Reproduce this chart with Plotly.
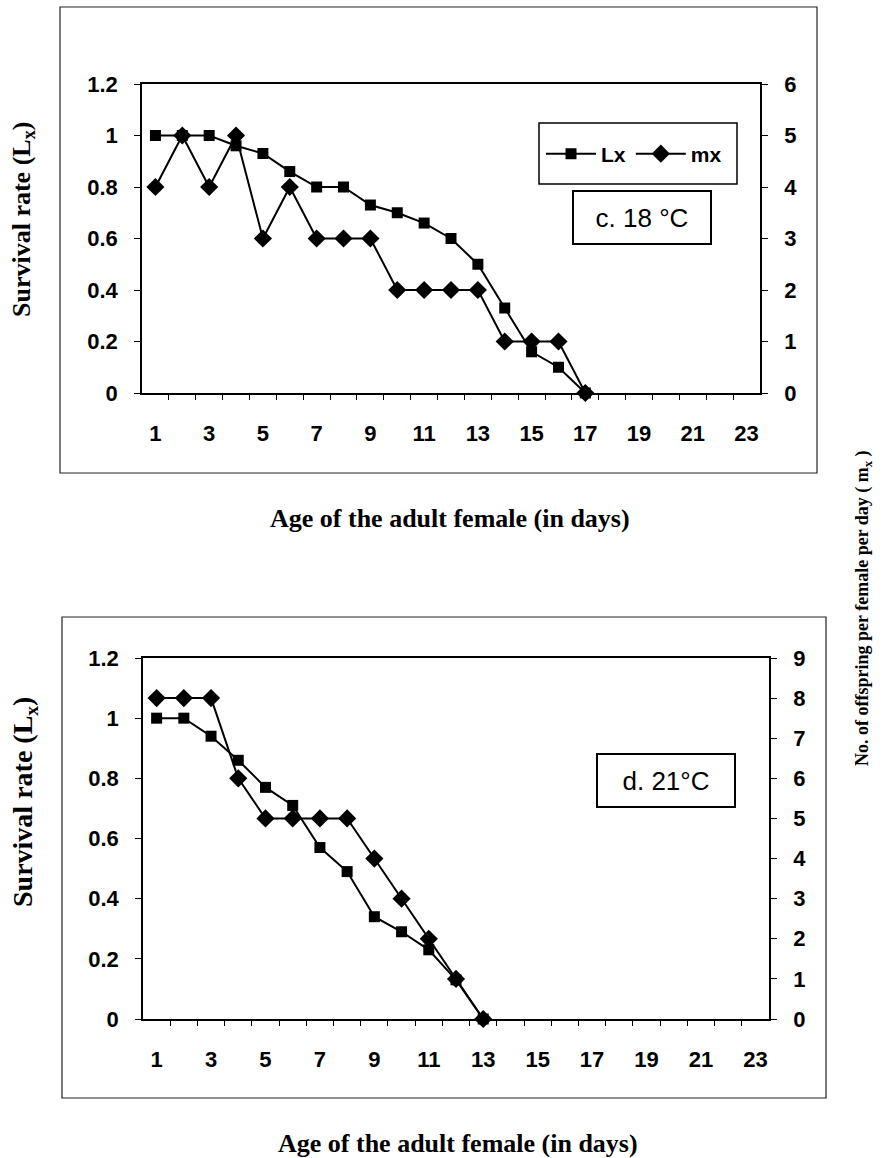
import plotly.graph_objects as go

# ---- data ----
days_c = list(range(1, 18))
lx_c = [1, 1, 1, 0.96, 0.93, 0.86, 0.8, 0.8, 0.73, 0.7, 0.66, 0.6, 0.5, 0.33, 0.16, 0.1, 0]
mx_c = [4, 5, 4, 5, 3, 4, 3, 3, 3, 2, 2, 2, 2, 1, 1, 1, 0]

days_d = list(range(1, 14))
lx_d = [1, 1, 0.94, 0.86, 0.77, 0.71, 0.57, 0.49, 0.34, 0.29, 0.23, 0.13, 0]
mx_d = [8, 8, 8, 6, 5, 5, 5, 5, 4, 3, 2, 1, 0]

x_tick_vals = list(range(1, 24, 2))
x_tick_text = [str(v) for v in x_tick_vals]
x_minor_vals = [v + 0.5 for v in range(1, 23)]
panel_c_label = "c. 18 °C"
panel_d_label = "d. 21°C"

W, H = 884, 1158


def px(x):
    return x / W


def py(y):
    return 1 - y / H


tick_font = dict(family="Liberation Sans", size=22, color="black", weight="bold")
title_font = dict(family="Liberation Serif", size=26, color="black", weight="bold")

fig = go.Figure()

line_style = dict(color="black", width=2)
sq = dict(symbol="square", size=11, color="black")
dm = dict(symbol="diamond", size=14, color="black")

fig.add_trace(go.Scatter(x=days_c, y=lx_c, name="Lx", mode="lines+markers", line=line_style,
                         marker=sq, xaxis="x", yaxis="y", cliponaxis=False))
fig.add_trace(go.Scatter(x=days_c, y=mx_c, name="mx", mode="lines+markers", line=line_style,
                         marker=dm, xaxis="x", yaxis="y2", cliponaxis=False))
fig.add_trace(go.Scatter(x=days_d, y=lx_d, name="Lx", mode="lines+markers", line=line_style,
                         marker=sq, xaxis="x2", yaxis="y3", cliponaxis=False, showlegend=False))
fig.add_trace(go.Scatter(x=days_d, y=mx_d, name="mx", mode="lines+markers", line=line_style,
                         marker=dm, xaxis="x2", yaxis="y4", cliponaxis=False, showlegend=False))


def xaxis_cfg(domain, anchor):
    return dict(domain=domain, anchor=anchor, range=[0.5, 23.5], tickmode="array",
                tickvals=x_tick_vals, ticktext=x_tick_text, ticks="", tickfont=tick_font,
                showline=True, linecolor="black", linewidth=1.5, mirror=True,
                showgrid=False, zeroline=False, ticklabelstandoff=20,
                minor=dict(tickmode="array", tickvals=x_minor_vals, ticks="outside",
                           ticklen=5, tickwidth=1, tickcolor="black", showgrid=False),
                automargin=False, fixedrange=True)


def yaxis_cfg(domain, anchor, rng, dtick, side="left", overlaying=None):
    d = dict(domain=domain, anchor=anchor, range=rng, dtick=dtick, tick0=0, side=side,
             ticks="outside", ticklen=6, tickwidth=1, tickcolor="black", tickfont=tick_font,
             showline=True, linecolor="black", linewidth=1.5, showgrid=False, zeroline=False,
             ticklabelstandoff=12, automargin=False, fixedrange=True)
    if overlaying:
        d["overlaying"] = overlaying
        d.pop("domain")
    return d


top_y = [py(393), py(84)]
bot_y = [py(1019), py(658)]

fig.update_layout(
    width=W, height=H,
    margin=dict(l=0, r=0, t=0, b=0, pad=0),
    paper_bgcolor="white", plot_bgcolor="white",
    xaxis=xaxis_cfg([px(142), px(760)], "y"),
    yaxis=yaxis_cfg(top_y, "x", [0, 1.2], 0.2),
    yaxis2=yaxis_cfg(top_y, "x", [0, 6], 1, side="right", overlaying="y"),
    xaxis2=xaxis_cfg([px(143), px(769)], "y3"),
    yaxis3=yaxis_cfg(bot_y, "x2", [0, 1.2], 0.2),
    yaxis4=yaxis_cfg(bot_y, "x2", [0, 9], 1, side="right", overlaying="y3"),
    showlegend=True,
    legend=dict(orientation="h", x=px(541), y=py(154), xanchor="left", yanchor="middle",
                bgcolor="rgba(0,0,0,0)", borderwidth=0, itemwidth=50,
                font=dict(family="Liberation Sans", size=21, color="black", weight="bold")),
)

# outer frames and legend box
frame = dict(type="rect", xref="paper", yref="paper", line=dict(color="#222", width=1.2),
             fillcolor="rgba(0,0,0,0)", layer="below")
fig.add_shape(**frame, x0=px(60), x1=px(817), y0=py(473), y1=py(7))
fig.add_shape(**frame, x0=px(62), x1=px(826), y0=py(1098), y1=py(617))
fig.add_shape(type="rect", xref="paper", yref="paper", line=dict(color="black", width=1.5),
              x0=px(539), x1=px(737), y0=py(184), y1=py(123))

box_font = dict(family="Liberation Sans", size=26, color="black")
fig.add_annotation(x=px(642), y=py(217.5), xref="paper", yref="paper", text=panel_c_label,
                   showarrow=False, font=box_font, width=134, height=49,
                   bordercolor="black", borderwidth=2, bgcolor="white", xanchor="center", yanchor="middle")
fig.add_annotation(x=px(666), y=py(780.5), xref="paper", yref="paper", text=panel_d_label,
                   showarrow=False, font=box_font, width=134, height=49,
                   bordercolor="black", borderwidth=2, bgcolor="white", xanchor="center", yanchor="middle")

# axis titles
xt = "Age of the adult female (in days)"
yt = "Survival rate (L<sub>x</sub>)"
rt = "No. of offspring per female per day ( m<sub>x</sub> )"
fig.add_annotation(x=px(450), y=py(518), xref="paper", yref="paper", text=xt, showarrow=False,
                   font=title_font, xanchor="center", yanchor="middle")
fig.add_annotation(x=px(458), y=py(1143), xref="paper", yref="paper", text=xt, showarrow=False,
                   font=title_font, xanchor="center", yanchor="middle")
fig.add_annotation(x=px(23), y=py(220), xref="paper", yref="paper", text=yt, showarrow=False,
                   font=title_font, textangle=-90, xanchor="center", yanchor="middle")
fig.add_annotation(x=px(24), y=py(802), xref="paper", yref="paper", text=yt, showarrow=False,
                   font=dict(title_font, size=28), textangle=-90, xanchor="center", yanchor="middle")
fig.add_annotation(x=px(863), y=py(608), xref="paper", yref="paper", text=rt, showarrow=False,
                   font=dict(title_font, size=18), textangle=-90, xanchor="center", yanchor="middle")

fig.write_html("out.html", config={"displayModeBar": False},
               post_script="document.body.style.margin='0';document.body.style.padding='0';")
